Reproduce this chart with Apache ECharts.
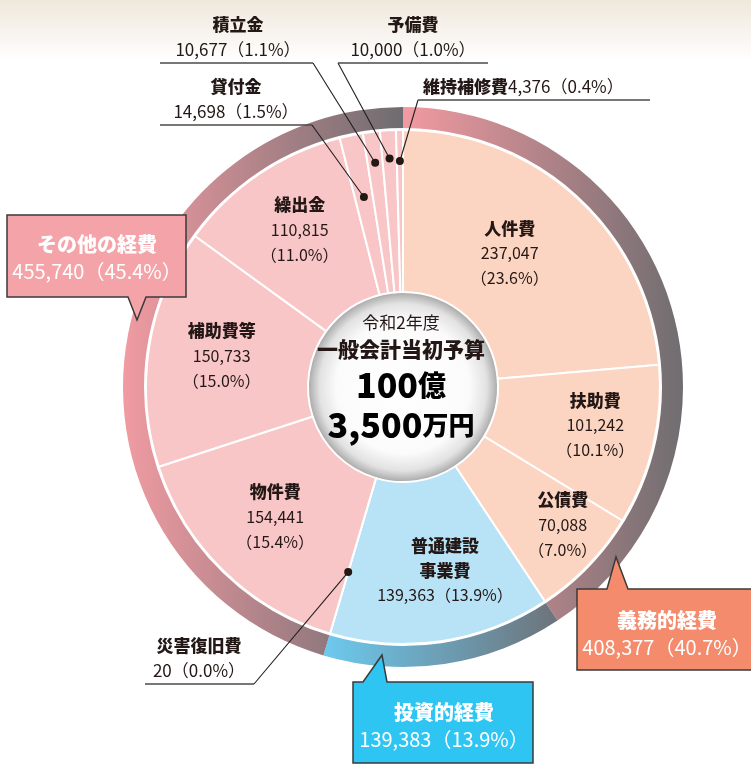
<!DOCTYPE html>
<html><head><meta charset="utf-8">
<script src="https://cdn.jsdelivr.net/npm/echarts@6/dist/echarts.min.js"></script>
<style>html,body{margin:0;padding:0;background:#fff}#c{width:751px;height:767px}</style>
</head><body><div id="c"></div>
<script>
// ---- data ----
const categories = ['人件費','扶助費','公債費','普通建設事業費','災害復旧費','物件費','補助費等','繰出金','貸付金','積立金','予備費','維持補修費'];
const values = [237047,101242,70088,139363,20,154441,150733,110815,14698,10677,10000,4376];
const groupNames = ['義務的経費','投資的経費','その他の経費'];
const groupMembers = [[0,1,2],[3,4],[5,6,7,8,9,10,11]];
const centerLines = ['令和2年度','一般会計当初予算','100','億','3,500','万円'];

// ---- derived ----
const total = values.reduce((a,b)=>a+b,0);
const groupValues = groupMembers.map(m=>m.reduce((s,i)=>s+values[i],0));
const fmt = v => v.toLocaleString('en-US');
const pct = v => (v/total*100).toFixed(1);
const midAngle = []; { let c=0; values.forEach(v=>{ midAngle.push((c+v/2)/total*360); c+=v; }); }
const groupOf = i => groupMembers.findIndex(m=>m.includes(i));

// ---- layout / style ----
const CX=403, CY=387, R0=95, R1=257, RING0=259, RING1=280;
const FONT='"Noto Sans CJK JP","Noto Sans",sans-serif';
const TXT='#231815';
const sliceColors=['#fcd4c2','#b8e3f7','#f9c6c8'];
const ringColors=[['#f29aa1','#6f6d70'],['#6ccaef','#6d737a'],['#f19ba2','#6e6c70']];
const insideLabel={0:[171,-3.9],1:[196,-2],2:[211,-3.1],3:[188,-4.4],5:[182,0.4],6:[184,0.8],7:[188,0.8]};
const outside={
  11:{dotR:226, pts:[[418,100],[650,100]], x:423, y:99, align:'left'},
  10:{dotR:229, pts:[[338,63],[488,63]], x:413, y:62, align:'center'},
  9:{dotR:226, pts:[[313,63],[160,63]], x:238, y:62, align:'center'},
  8:{dotR:194, pts:[[312,125],[160,125]], x:236, y:124, align:'center'},
  4:{dotR:193, pts:[[254,684],[145,684]], x:199, y:683, align:'center'}
};
const callouts=[
  {g:0, fill:'#f58b6d', poly:[[577,589],[607,589],[616,557],[628,589],[756,589],[756,670],[577,670]], tx:667, ty1:620, ty2:647},
  {g:1, fill:'#2ec5f2', poly:[[353,682],[363,682],[382,655],[387,682],[533,682],[533,763],[353,763]], tx:444, ty1:712, ty2:739},
  {g:2, fill:'#f4a3a9', poly:[[7,215],[186,215],[186,297],[146,297],[137,320],[128,297],[7,297]], tx:97, ty1:244, ty2:271}
];
function polar(a,r){const t=a*Math.PI/180;return [CX+r*Math.sin(t), CY-r*Math.cos(t)];}
const hgrad=(a,b)=>({type:'linear',x:0,y:0,x2:1,y2:0,colorStops:[{offset:0,color:a},{offset:1,color:b}]});

const chart=echarts.init(document.getElementById('c'));
const graphics=[
  {type:'rect', z:-10, shape:{x:0,y:0,width:751,height:60}, style:{fill:{type:'linear',x:0,y:0,x2:0,y2:1,colorStops:[{offset:0,color:'#efe8dc'},{offset:0.6,color:'#f8f5f0'},{offset:1,color:'#ffffff'}]}}},
  {type:'text', z:50, x:401, y:323, style:{text:centerLines[0], font:'17px '+FONT, fill:TXT, align:'center', verticalAlign:'middle'}},
  {type:'text', z:50, x:401, y:349, style:{text:centerLines[1], font:'900 21px '+FONT, fill:TXT, align:'center', verticalAlign:'middle'}},
  {type:'text', z:50, x:401, y:385, style:{text:'{a|'+centerLines[2]+'}{b|'+centerLines[3]+'}', align:'center', verticalAlign:'middle', rich:{a:{fontWeight:900, fontSize:34, fontFamily:FONT, color:TXT}, b:{fontWeight:900, fontSize:28, fontFamily:FONT, color:TXT}}}},
  {type:'text', z:50, x:401, y:425, style:{text:'{a|'+centerLines[4]+'}{b|'+centerLines[5]+'}', align:'center', verticalAlign:'middle', rich:{a:{fontWeight:900, fontSize:34, fontFamily:FONT, color:TXT}, b:{fontWeight:900, fontSize:26, fontFamily:FONT, color:TXT}}}}
];
callouts.forEach(c=>{
  graphics.push({type:'polygon', z:40, shape:{points:c.poly}, style:{fill:c.fill, stroke:'#3a3a3a', lineWidth:1.5}});
  graphics.push({type:'text', z:41, x:c.tx, y:c.ty1, style:{text:groupNames[c.g], font:'900 20px '+FONT, fill:'#fff', align:'center', verticalAlign:'middle'}});
  graphics.push({type:'text', z:41, x:c.tx, y:c.ty2, style:{text:fmt(groupValues[c.g])+'（'+pct(groupValues[c.g])+'%）', font:'20px '+FONT, fill:'#fff', align:'center', verticalAlign:'middle'}});
});
Object.keys(outside).forEach(k=>{
  const o=outside[k]; const p=polar(midAngle[k], o.dotR);
  graphics.push({type:'polyline', z:59, shape:{points:[p,o.pts[0]]}, style:{stroke:'#1e1e1e', lineWidth:1.1, fill:null}});
  graphics.push({type:'polyline', z:59, shape:{points:[o.pts[0],o.pts[1]]}, style:{stroke:'#4a4a4a', lineWidth:1.6, fill:null}});
  graphics.push({type:'circle', z:60, shape:{cx:p[0], cy:p[1], r:4}, style:{fill:TXT}});
});

chart.setOption({
  animation:false,
  graphic:graphics,
  series:[
    {type:'pie', silent:true, center:[CX,CY], radius:[0,R0], label:{show:false}, labelLine:{show:false}, z:1,
     data:[{value:1, itemStyle:{color:{type:'radial',x:0.5,y:0.5,r:0.5,colorStops:[{offset:0,color:'#ffffff'},{offset:0.7,color:'#fbfbfb'},{offset:0.88,color:'#e2e2e2'},{offset:1,color:'#a8a8a8'}]}}}]},
    {type:'pie', silent:true, center:[CX,CY], radius:[RING0,RING1], startAngle:90, clockwise:true, label:{show:false}, labelLine:{show:false},
     itemStyle:{borderWidth:0},
     data:groupNames.map((n,g)=>({name:n, value:groupValues[g], itemStyle:{color:hgrad(ringColors[g][0], ringColors[g][1])}}))},
    {type:'pie', silent:true, center:[CX,CY], radius:[R0,R1], startAngle:90, clockwise:true, avoidLabelOverlap:false, z:3,
     itemStyle:{borderColor:'#fff', borderWidth:2},
     label:{position:'inside', color:TXT, fontFamily:FONT,
       formatter:p=>{const i=p.dataIndex, n=categories[i], v=fmt(values[i]), c=pct(values[i]);
         if(i===11) return '{on|'+n+'}{ov|'+v+'（'+c+'%）}';
         if(outside[i]) return '{on|'+n+'}\n{ov|'+v+'（'+c+'%）}';
         if(n.length>5) return '{n|'+n.slice(0,4)+'}\n{n|'+n.slice(4)+'}\n{v|'+v+'（'+c+'%）}';
         return '{n|'+n+'}\n{v|'+v+'}\n{v|（'+c+'%）}';},
       rich:{
         n:{fontWeight:900, fontSize:17, lineHeight:25, fontFamily:FONT, color:TXT},
         v:{fontSize:16, lineHeight:25, fontFamily:FONT, color:TXT},
         on:{fontWeight:900, fontSize:17, lineHeight:25, fontFamily:FONT, color:TXT},
         ov:{fontSize:17, lineHeight:25, fontFamily:FONT, color:TXT}
       }},
     labelLine:{show:false},
     labelLayout:p=>{const i=p.dataIndex;
       if(outside[i]){const o=outside[i];
         return {x:o.x, y:o.y, align:o.align, verticalAlign:'bottom'};}
       const L=insideLabel[i]; const q=polar(midAngle[i]+L[1], L[0]);
       return {x:q[0], y:q[1], align:'center', verticalAlign:'middle'};},
     data:categories.map((n,i)=>{const it={name:n, value:values[i], itemStyle:{color:sliceColors[groupOf(i)]}};
       if(outside[i]){it.label={position:'outside'}; it.labelLine={show:false};} return it;})}
  ]
});
</script></body></html>
